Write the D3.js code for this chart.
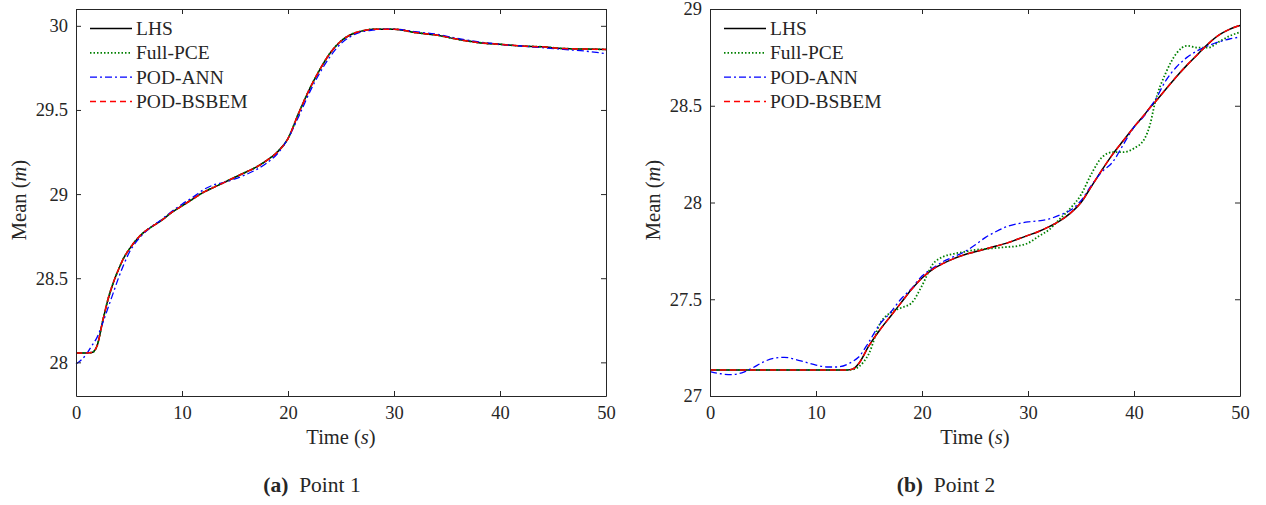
<!DOCTYPE html>
<html>
<head>
<meta charset="utf-8">
<script src="https://cdn.jsdelivr.net/npm/d3@7"></script>
<style>
  html, body { margin: 0; padding: 0; background: #fff; }
  svg text { font-family: "Liberation Serif", "DejaVu Serif", serif; fill: #262626; }
</style>
</head>
<body>
<svg id="chart" width="1266" height="505"></svg>
<script>
// ---------- Data: Point 1 ----------
const timeP1 = [0,1,1.5,2,2.5,3,3.5,4,4.5,5,6,7,8,9,10,11,12,13,14,15,16,17,18,19,20,21,22,23,24,25,26,27,28,29,30,32,34,36,38,40,42,44,46,48,50];
const lhsP1 = [28.056,28.056,28.058,28.10,28.24,28.37,28.47,28.55,28.62,28.67,28.75,28.80,28.84,28.89,28.93,28.97,29.01,29.04,29.07,29.10,29.13,29.16,29.20,29.25,29.33,29.48,29.62,29.74,29.84,29.91,29.95,29.97,29.98,29.98,29.98,29.96,29.945,29.92,29.90,29.89,29.88,29.875,29.865,29.862,29.86];
const pceP1 = [28.056,28.056,28.058,28.10,28.24,28.37,28.47,28.55,28.62,28.67,28.75,28.80,28.842,28.89,28.93,28.97,29.01,29.042,29.07,29.10,29.13,29.16,29.20,29.25,29.33,29.48,29.62,29.74,29.84,29.91,29.95,29.97,29.98,29.98,29.98,29.96,29.945,29.92,29.90,29.89,29.88,29.875,29.865,29.862,29.86];
const annP1 = [27.99,28.05,28.10,28.15,28.23,28.32,28.41,28.50,28.58,28.65,28.74,28.80,28.845,28.895,28.94,28.98,29.025,29.055,29.07,29.09,29.115,29.145,29.185,29.24,29.33,29.46,29.60,29.72,29.82,29.895,29.94,29.965,29.975,29.98,29.98,29.965,29.95,29.925,29.905,29.89,29.88,29.87,29.86,29.85,29.835];
const bsbemP1 = [28.056,28.056,28.058,28.10,28.24,28.37,28.47,28.55,28.62,28.67,28.75,28.80,28.84,28.89,28.93,28.97,29.01,29.04,29.07,29.10,29.13,29.16,29.20,29.25,29.33,29.48,29.62,29.74,29.84,29.91,29.95,29.97,29.98,29.98,29.98,29.96,29.945,29.92,29.90,29.89,29.88,29.875,29.865,29.862,29.86];

// ---------- Data: Point 2 ----------
const timeP2 = [0,1,2,3,4,5,6,7,8,9,10,11,12,13,13.5,14,15,16,17,18,19,20,21,22,23,24,25,26,27,28,29,30,31,32,33,34,35,36,37,38,39,40,41,41.5,42,43,44,45,46,47,48,49,50];
const lhsP2 = [27.135,27.135,27.135,27.135,27.135,27.135,27.135,27.135,27.135,27.135,27.135,27.135,27.135,27.135,27.14,27.165,27.26,27.34,27.41,27.48,27.55,27.61,27.655,27.685,27.71,27.73,27.745,27.76,27.775,27.79,27.81,27.83,27.85,27.875,27.905,27.945,28.0,28.085,28.17,28.25,28.32,28.39,28.455,28.49,28.52,28.585,28.65,28.71,28.765,28.82,28.865,28.895,28.915];
const pceP2 = [27.135,27.135,27.135,27.135,27.135,27.135,27.135,27.135,27.135,27.135,27.135,27.135,27.135,27.135,27.137,27.15,27.22,27.37,27.43,27.455,27.48,27.57,27.68,27.72,27.735,27.745,27.755,27.76,27.765,27.77,27.775,27.79,27.825,27.86,27.915,27.97,28.04,28.15,28.235,28.26,28.26,28.28,28.33,28.40,28.52,28.67,28.77,28.81,28.80,28.80,28.83,28.86,28.88];
const annP2 = [27.126,27.115,27.11,27.12,27.145,27.175,27.195,27.20,27.19,27.175,27.16,27.15,27.15,27.165,27.18,27.20,27.28,27.37,27.43,27.50,27.555,27.62,27.66,27.695,27.72,27.745,27.78,27.82,27.85,27.875,27.89,27.90,27.905,27.915,27.935,27.96,28.01,28.09,28.16,28.21,28.30,28.39,28.45,28.49,28.53,28.63,28.70,28.75,28.785,28.81,28.83,28.845,28.855];
const bsbemP2 = [27.135,27.135,27.135,27.135,27.135,27.135,27.135,27.135,27.135,27.135,27.135,27.135,27.135,27.135,27.14,27.165,27.26,27.34,27.41,27.48,27.55,27.61,27.655,27.685,27.71,27.73,27.745,27.76,27.775,27.79,27.81,27.83,27.85,27.875,27.905,27.945,28.0,28.085,28.17,28.25,28.32,28.39,28.455,28.49,28.52,28.585,28.65,28.71,28.765,28.82,28.865,28.895,28.915];

// ---------- Labels / ticks ----------
const seriesNames = ["LHS", "Full-PCE", "POD-ANN", "POD-BSBEM"];
const xTicks = [0, 10, 20, 30, 40, 50];
const yTicksP1 = [28, 28.5, 29, 29.5, 30];
const yTicksP2 = [27, 27.5, 28, 28.5, 29];
const xLabel = "Time";
const yLabel = "Mean";
const captionTags = ["(a)", "(b)"];
const captionTexts = ["Point 1", "Point 2"];

// ---------- Styles ----------
const styles = [
  { color: "#000000", dash: null, width: 1.5 },
  { color: "#008000", dash: "1.5,2", width: 1.8 },
  { color: "#0000ff", dash: "7,3,2,3", width: 1.3 },
  { color: "#ff0000", dash: "6,4", width: 1.5 }
];

const svg = d3.select("#chart");

function drawPanel(cfg) {
  const x = d3.scaleLinear().domain([0, 50]).range([cfg.x0, cfg.x1]);
  const y = d3.scaleLinear().domain(cfg.yDomain).range([396, 9]);
  const g = svg.append("g");

  const line = d3.line()
    .x(d => x(d[0]))
    .y(d => y(d[1]))
    .curve(d3.curveMonotoneX);
  cfg.series.forEach((vals, i) => {
    const pts = cfg.time.map((t, k) => [t, vals[k]]);
    g.append("path")
      .attr("d", line(pts))
      .attr("fill", "none")
      .attr("stroke", styles[i].color)
      .attr("stroke-width", styles[i].width)
      .attr("stroke-dasharray", styles[i].dash)
      .attr("stroke-linejoin", "round");
  });

  const axisStyle = sel => {
    sel.selectAll("path.domain").attr("stroke", "#262626").attr("stroke-width", 1);
    sel.selectAll(".tick line").attr("stroke", "#262626").attr("stroke-width", 1);
    sel.selectAll(".tick text").attr("font-family", "Liberation Serif, serif")
      .attr("font-size", 18.5).attr("fill", "#262626");
  };

  const ax = g.append("g").attr("transform", `translate(0,${y.range()[0]})`)
    .call(d3.axisBottom(x).tickValues(xTicks).tickSizeInner(-5).tickSizeOuter(0).tickPadding(10).tickFormat(d3.format("d")));
  axisStyle(ax);
  const axT = g.append("g").attr("transform", `translate(0,${y.range()[1]})`)
    .call(d3.axisTop(x).tickValues(xTicks).tickSizeInner(-5).tickSizeOuter(0).tickFormat(""));
  axisStyle(axT);
  const ay = g.append("g").attr("transform", `translate(${cfg.x0},0)`)
    .call(d3.axisLeft(y).tickValues(cfg.yTicks).tickSizeInner(-5).tickSizeOuter(0).tickPadding(8).tickFormat(d => String(d)));
  axisStyle(ay);
  const ayR = g.append("g").attr("transform", `translate(${cfg.x1},0)`)
    .call(d3.axisRight(y).tickValues(cfg.yTicks).tickSizeInner(-5).tickSizeOuter(0).tickFormat(""));
  axisStyle(ayR);

  const xl = g.append("text")
    .attr("x", (cfg.x0 + cfg.x1) / 2).attr("y", 444)
    .attr("text-anchor", "middle").attr("font-size", 20.5);
  xl.append("tspan").text(xLabel + " (");
  xl.append("tspan").attr("font-style", "italic").text("s");
  xl.append("tspan").text(")");

  const yl = g.append("text")
    .attr("transform", `translate(${cfg.x0 - 50},200) rotate(-90)`)
    .attr("text-anchor", "middle").attr("font-size", 20.5);
  yl.append("tspan").text(yLabel + " (");
  yl.append("tspan").attr("font-style", "italic").text("m");
  yl.append("tspan").text(")");

  const rows = [28.5, 52.8, 77.1, 101.4];
  seriesNames.forEach((name, i) => {
    g.append("line")
      .attr("x1", cfg.x0 + 14).attr("x2", cfg.x0 + 56)
      .attr("y1", rows[i]).attr("y2", rows[i])
      .attr("stroke", styles[i].color)
      .attr("stroke-width", styles[i].width)
      .attr("stroke-dasharray", styles[i].dash);
    g.append("text")
      .attr("x", cfg.x0 + 60).attr("y", rows[i] + 6.5)
      .attr("font-size", 19.5).text(name);
  });

  const cap = g.append("text")
    .attr("x", cfg.capX).attr("y", 492)
    .attr("text-anchor", "middle").attr("font-size", 21.5);
  cap.append("tspan").attr("font-weight", "bold").text(cfg.tag);
  cap.append("tspan").text("\u00a0\u00a0" + cfg.caption);
}

drawPanel({
  x0: 76, x1: 606, yDomain: [27.8, 30.1], yTicks: yTicksP1,
  time: timeP1, series: [lhsP1, pceP1, annP1, bsbemP1],
  tag: captionTags[0], caption: captionTexts[0], capX: 312
});
drawPanel({
  x0: 710, x1: 1240, yDomain: [27, 29], yTicks: yTicksP2,
  time: timeP2, series: [lhsP2, pceP2, annP2, bsbemP2],
  tag: captionTags[1], caption: captionTexts[1], capX: 946
});
</script>
</body>
</html>
